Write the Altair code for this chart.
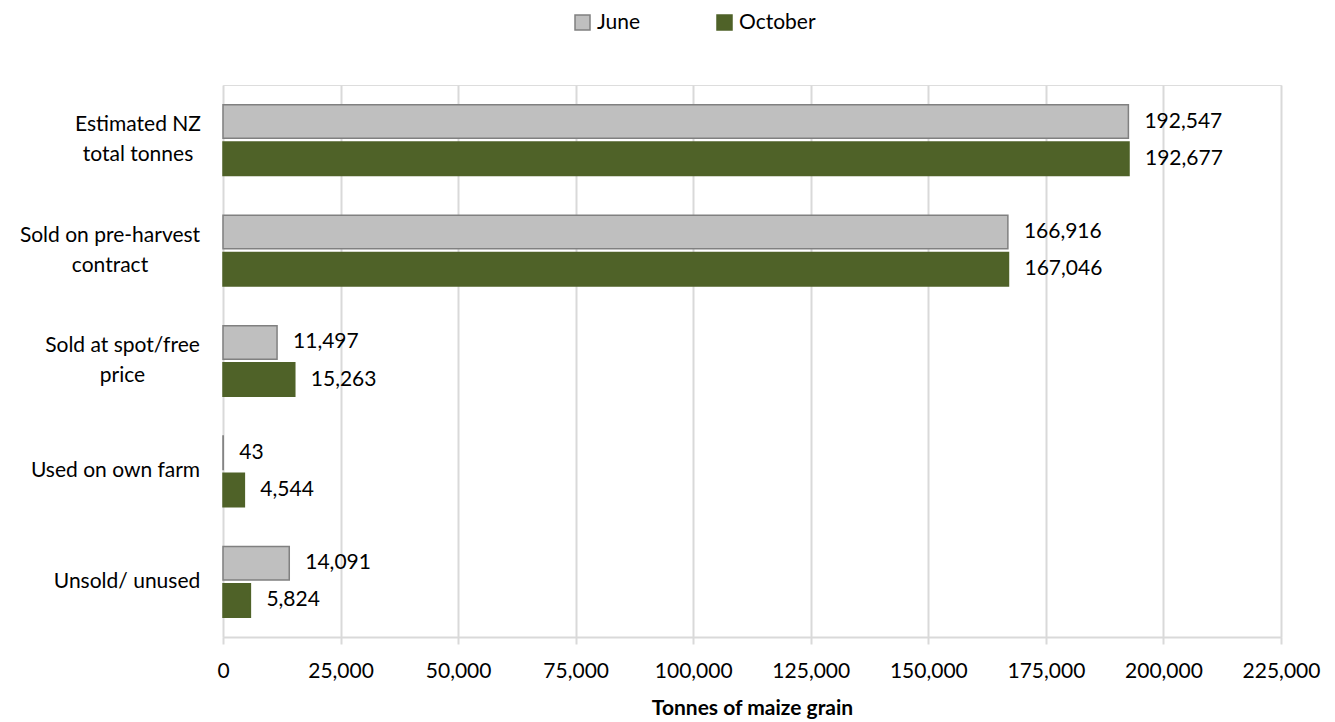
import altair as alt
import pandas as pd

categories = ["Estimated NZ|total tonnes", "Sold on pre-harvest|contract",
              "Sold at spot/free|price", "Used on own farm", "Unsold/ unused"]
june = [192547, 166916, 11497, 43, 14091]
october = [192677, 167046, 15263, 4544, 5824]
series = ["June", "October"]
ticks = [0, 25000, 50000, 75000, 100000, 125000, 150000, 175000, 200000, 225000]

rows = []
for c, j, o in zip(categories, june, october):
    rows.append({"cat": c, "series": "June", "value": j})
    rows.append({"cat": c, "series": "October", "value": o})
df = pd.DataFrame(rows)

FONT = "Lato"
FS = 21

# label padding so that each (multi-line) label block is centred, right edge near the axis
pads = [85.5, 113.5, 101, 108, 96.5]
pad_cond = {"condition": [{"test": f"datum.value == '{c}'", "value": p}
                          for c, p in zip(categories, pads)], "value": 24}

base = alt.Chart(df).encode(
    y=alt.Y("cat:N", sort=categories, title=None,
            scale=alt.Scale(paddingInner=0.36, paddingOuter=0.18),
            axis=alt.Axis(labelExpr="split(datum.label, '|')", labelFontSize=FS,
                          labelColor="#000000", labelFont=FONT, labelLineHeight=30,
                          labelLimit=400, labelAlign="center",
                          labelOffset={"condition": {"test": "indexof(datum.value, '|') >= 0",
                                                     "value": -15}, "value": 0},
                          labelPadding=pad_cond,
                          ticks=False, domain=False, grid=False)),
    yOffset=alt.YOffset("series:N", sort=series,
                        scale=alt.Scale(paddingInner=0.1)),
)

bars = base.mark_bar(strokeWidth=1.5).encode(
    x=alt.X("value:Q", title="Tonnes of maize grain",
            scale=alt.Scale(domain=[0, 225000], nice=False),
            axis=alt.Axis(values=ticks, labelExpr="format(datum.value, ',')",
                          labelFontSize=FS, labelFont=FONT, labelColor="#000000",
                          labelFlush=False, labelOverlap=False,
                          titleFontSize=FS, titleFont=FONT, titleFontWeight="bold",
                          titleColor="#000000", titlePadding=16,
                          grid=True, gridColor="#D9D9D9", gridWidth=2,
                          domainColor="#D9D9D9", domainWidth=2,
                          tickColor="#D9D9D9", tickWidth=2, tickSize=7,
                          labelPadding=16)),
    color=alt.Color("series:N", sort=series,
                    scale=alt.Scale(domain=series, range=["#BFBFBF", "#4F6228"]),
                    legend=alt.Legend(title=None, orient="none", direction="horizontal",
                                      legendX=349, legendY=-73,
                                      symbolType="square", symbolSize=225,
                                      symbolStrokeWidth=1.5,
                                      labelFontSize=FS, labelFont=FONT,
                                      labelColor="#000000", columnPadding=73,
                                      labelOffset=4)),
    stroke=alt.Stroke("series:N", sort=series,
                      scale=alt.Scale(domain=series, range=["#808080", "#4F6228"]),
                      legend=None),
)

labels = base.mark_text(align="left", baseline="middle", dx=16, fontSize=FS,
                        font=FONT, color="#000000").encode(
    x="value:Q",
    text=alt.Text("value:Q", format=","),
)

chart = alt.layer(bars, labels).properties(
    width=1058, height=552,
    padding={"left": 223, "top": 85, "right": 54, "bottom": 85},
    autosize=alt.AutoSizeParams(type="none"),
).configure_view(stroke=None).configure(background="white")

chart.save("out.html", embed_options={"renderer": "svg", "actions": False})
